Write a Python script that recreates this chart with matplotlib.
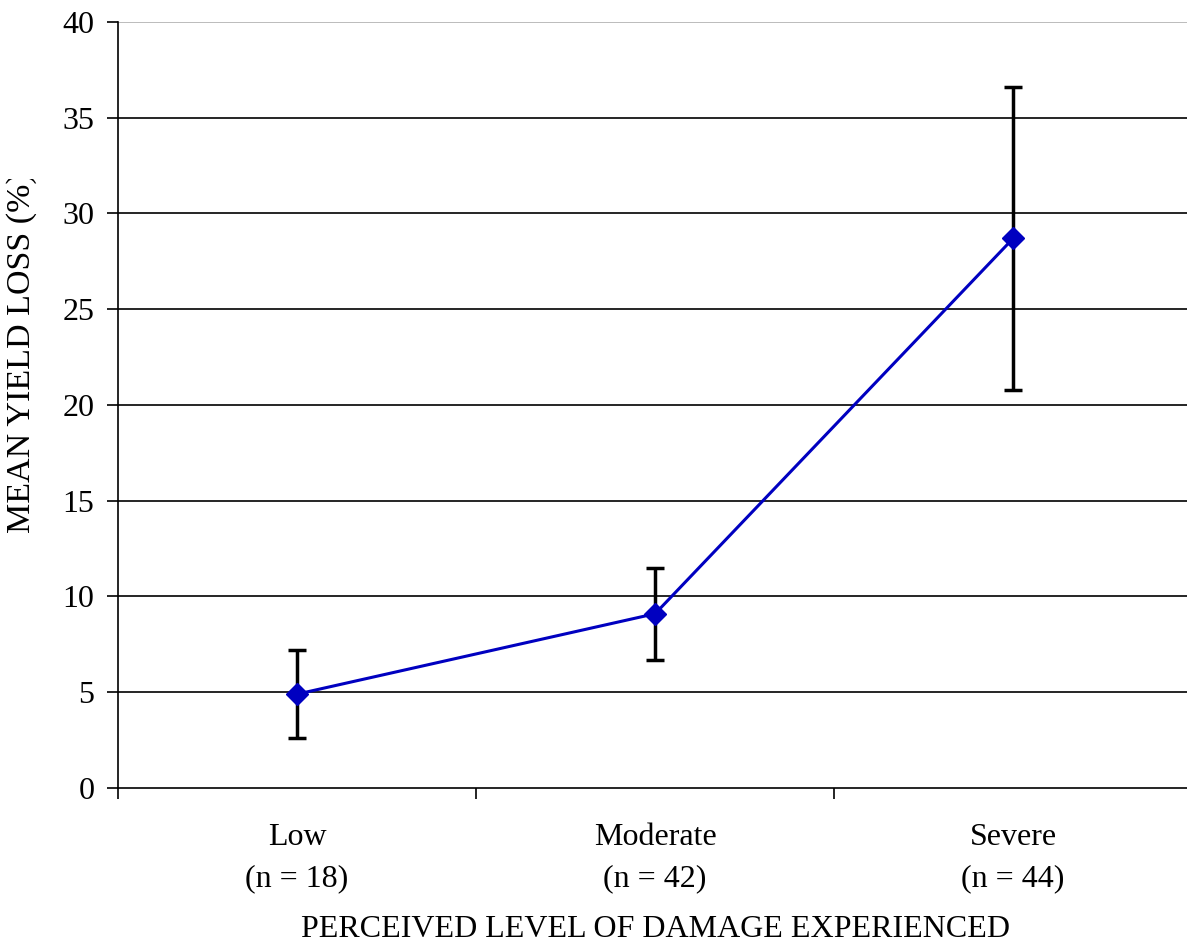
import matplotlib.pyplot as plt
import numpy as np
from matplotlib.transforms import Bbox

plt.rcParams["font.family"] = ["Liberation Serif", "DejaVu Serif"]

categories = ["Low\n(n = 18)", "Moderate\n(n = 42)", "Severe\n(n = 44)"]
mean_loss = [4.9, 9.1, 28.7]
err = [2.3, 2.4, 7.9]

fig = plt.figure(figsize=(11.87, 9.47), dpi=100)
ax = fig.add_axes([0.0994, 0.1679, 0.905, 0.8089])

x = np.arange(len(categories)) + 0.5

# horizontal gridlines every 5 units
for yv in range(5, 45, 5):
    ax.axhline(yv, color="black" if yv < 40 else "#b0b0b0", lw=1.2, zorder=1)

ax.errorbar(x, mean_loss, yerr=err, fmt="none", ecolor="black",
            elinewidth=2.5, capsize=6.5, capthick=2.5, zorder=2)
ax.plot(x, mean_loss, color="#0000c0", lw=2.2, marker="D", markersize=11,
        markerfacecolor="#0000c0", markeredgecolor="#0000c0", zorder=3)

ax.set_xlim(0, 3)
ax.set_ylim(0, 40)
ax.set_yticks(range(0, 45, 5))
ax.tick_params(axis="y", labelsize=23, length=8, width=1.2, direction="out", pad=9)

ax.set_xticks([0, 1, 2, 3])
ax.set_xticklabels([])
ax.tick_params(axis="x", which="major", length=8, width=1.2, direction="out")
ax.set_xticks(x, minor=True)
ax.set_xticklabels(categories, minor=True, fontsize=23, linespacing=1.55)
ax.tick_params(axis="x", which="minor", length=0, pad=25)

ax.set_xlabel("PERCEIVED LEVEL OF DAMAGE EXPERIENCED", fontsize=23, labelpad=16)
ylab = fig.text(22 / 1187, 1 - 353 / 947, "MEAN YIELD LOSS (%)", fontsize=24.5,
                rotation=90, ha="center", va="center")
# the label box cuts the end of the text
ylab.set_clip_box(Bbox.from_extents(0, 0, 1187, 947 - 179))
ylab.set_clip_on(True)

for side in ["top", "right"]:
    ax.spines[side].set_visible(False)
ax.spines["left"].set_linewidth(1.2)
ax.spines["bottom"].set_linewidth(1.2)

fig.savefig("out.png", dpi=100)
